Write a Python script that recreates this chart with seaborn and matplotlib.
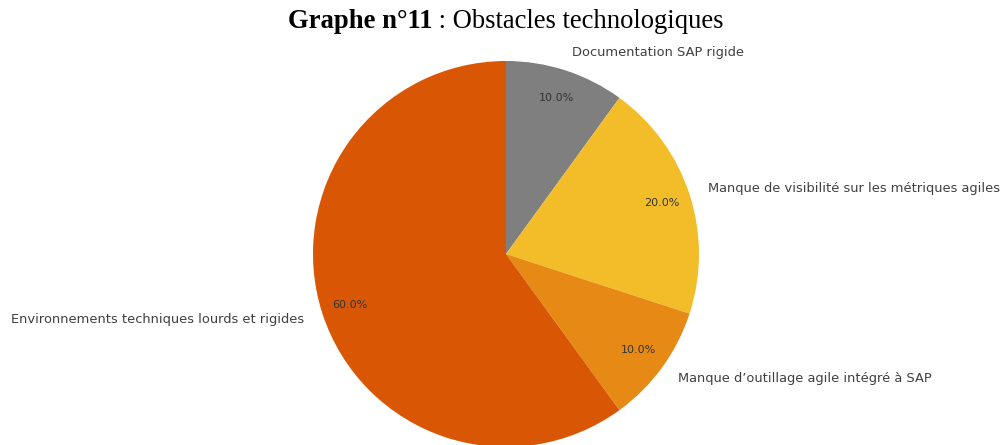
import matplotlib
matplotlib.use("Agg")
import matplotlib.pyplot as plt
import seaborn as sns

# Obstacle categories and their shares (%)
categories = [
    "Documentation SAP rigide",
    "Manque de visibilité sur les métriques agiles",
    "Manque d\u2019outillage agile intégré à SAP",
    "Environnements techniques lourds et rigides",
]
shares = [10, 20, 10, 60]
slice_colors = ["#7f7f7f", "#f3bd29", "#e68a15", "#d95604"]

sns.set_theme(style="white")

W, H = 1001, 445
fig = plt.figure(figsize=(W / 100, H / 100), dpi=100)

# square axes holding the pie (radius 1 in data units)
cx, cy, r = 506, 254, 193
ax = fig.add_axes([(cx - r) / W, (H - cy - r) / H, 2 * r / W, 2 * r / H])
wedges, texts, autotexts = ax.pie(
    shares,
    labels=categories,
    colors=sns.color_palette(slice_colors),
    startangle=90,
    counterclock=False,
    autopct="%1.1f%%",
    pctdistance=0.85,
    labeldistance=1.1,
    textprops={"fontsize": 9.4, "color": "#404040"},
    wedgeprops={"linewidth": 0},
)
for t in autotexts:
    t.set_fontsize(8)
    t.set_color("#333333")
ax.set_xlim(-1, 1)
ax.set_ylim(-1, 1)
ax.set_aspect("equal")
ax.axis("off")

# Title: bold prefix followed by regular text, centred as one line
serif = "Liberation Serif"
t1 = fig.text(0, 0, "Graphe n°11", fontsize=19.2, fontweight="bold",
              family=serif, color="black")
t2 = fig.text(0, 0, " : Obstacles technologiques", fontsize=19.2,
              family=serif, color="black")
fig.canvas.draw()
rend = fig.canvas.get_renderer()
w1 = t1.get_window_extent(rend).width / W
w2 = t2.get_window_extent(rend).width / W
x0 = 506 / W - (w1 + w2) / 2
ty = 1 - 21 / H
t1.set_position((x0, ty))
t1.set_va("center")
t2.set_position((x0 + w1, ty))
t2.set_va("center")

fig.savefig("out.png", dpi=100)
